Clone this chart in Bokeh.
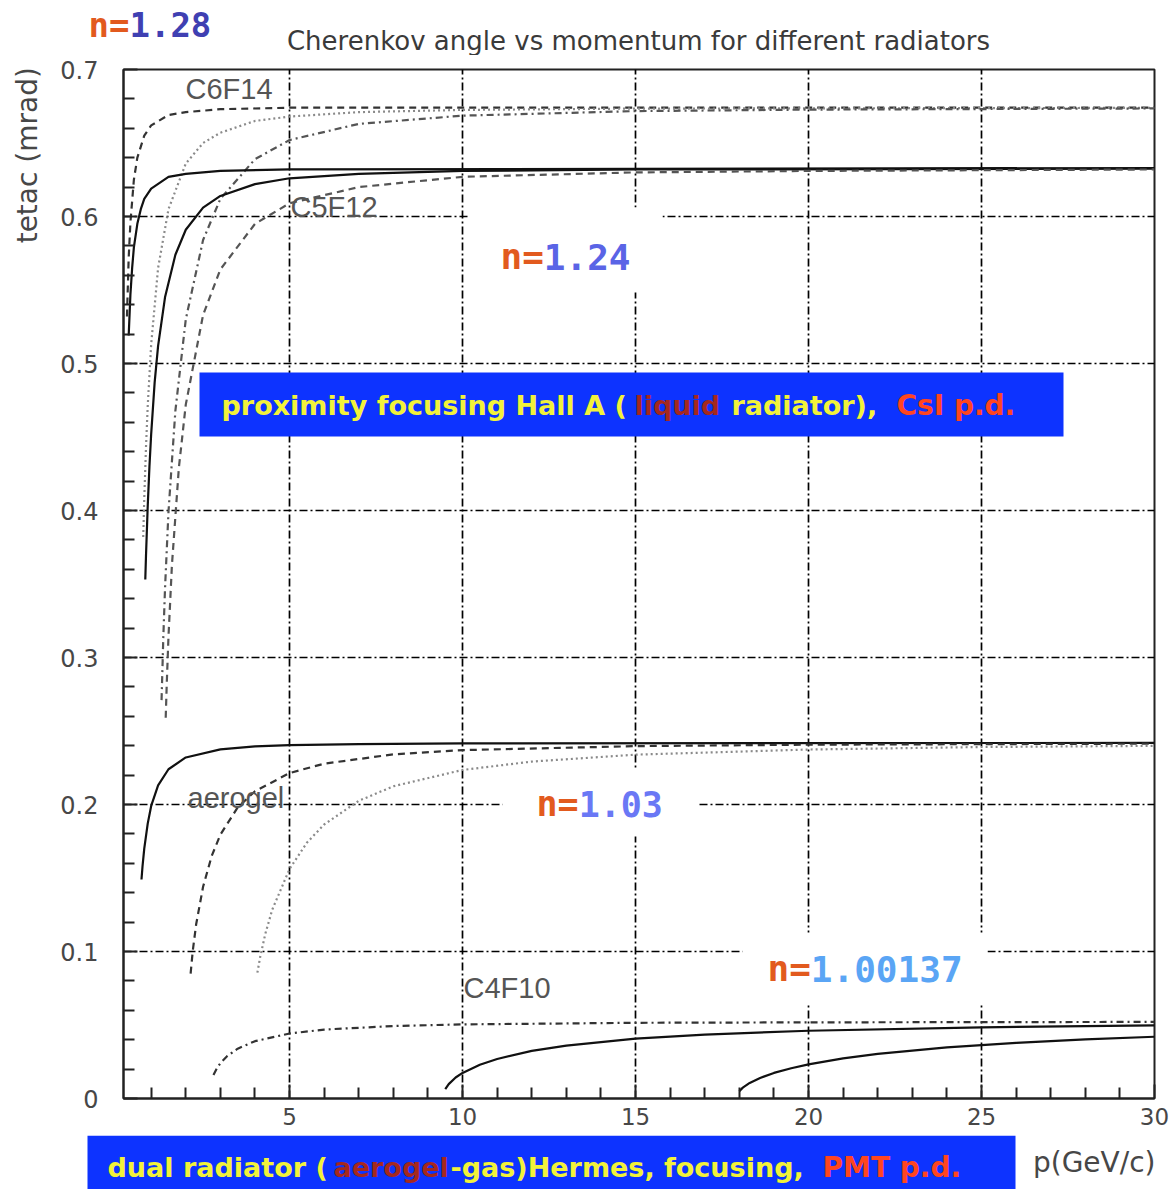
import math
from bokeh.plotting import figure
from bokeh.models import Range1d, FixedTicker, Label, BoxAnnotation
from bokeh.layouts import column, row
from bokeh.embed import file_html
from bokeh.resources import INLINE

# ---------------- data ----------------
# C6F14 (n = 1.28)
c6f14_pi_p = [0.3, 0.35, 0.4, 0.5, 0.6, 0.8, 1.0, 1.5, 2.0, 3.0, 5.0, 10.0, 30.0]
c6f14_pi_t = [0.532, 0.572, 0.596, 0.625, 0.640, 0.655, 0.662, 0.669, 0.671, 0.673, 0.674, 0.674, 0.674]
c6f14_k_p = [0.77, 0.8, 0.85, 0.9, 1.0, 1.2, 1.5, 2.0, 2.5, 3.0, 4.0, 5.0, 7.0, 10.0, 15.0, 30.0]
c6f14_k_t = [0.382, 0.408, 0.443, 0.471, 0.513, 0.565, 0.605, 0.636, 0.650, 0.657, 0.665, 0.668, 0.671, 0.6725, 0.6734, 0.6739]
c6f14_p_p = [1.3, 1.35, 1.4, 1.5, 1.7, 2.0, 2.5, 3.0, 4.0, 5.0, 7.0, 10.0, 15.0, 20.0, 30.0]
c6f14_p_t = [0.271, 0.313, 0.347, 0.399, 0.468, 0.530, 0.584, 0.612, 0.639, 0.652, 0.663, 0.6686, 0.6717, 0.6727, 0.6735]
# C5F12 (n = 1.24)
c5f12_pi_p = [0.35, 0.4, 0.45, 0.5, 0.6, 0.7, 0.8, 1.0, 1.5, 2.0, 3.0, 5.0, 30.0]
c5f12_pi_t = [0.519, 0.547, 0.565, 0.579, 0.595, 0.605, 0.612, 0.619, 0.627, 0.629, 0.631, 0.632, 0.633]
c5f12_k_p = [0.83, 0.85, 0.9, 0.95, 1.0, 1.1, 1.2, 1.4, 1.7, 2.0, 2.5, 3.0, 4.0, 5.0, 7.0, 10.0, 15.0, 30.0]
c5f12_k_t = [0.353, 0.369, 0.403, 0.430, 0.452, 0.487, 0.512, 0.545, 0.574, 0.591, 0.606, 0.614, 0.622, 0.626, 0.629, 0.631, 0.632, 0.6325]
c5f12_p_p = [1.42, 1.45, 1.5, 1.6, 1.8, 2.0, 2.5, 3.0, 4.0, 5.0, 7.0, 10.0, 15.0, 20.0, 30.0]
c5f12_p_t = [0.259, 0.282, 0.314, 0.363, 0.429, 0.472, 0.533, 0.564, 0.595, 0.609, 0.620, 0.627, 0.630, 0.631, 0.632]
# aerogel (n = 1.03)
aero_pi_p = [0.72, 0.75, 0.8, 0.9, 1.0, 1.2, 1.5, 2.0, 3.0, 4.0, 5.0, 7.0, 10.0, 30.0]
aero_pi_t = [0.149, 0.158, 0.170, 0.187, 0.199, 0.213, 0.224, 0.232, 0.2375, 0.2395, 0.2404, 0.2411, 0.2416, 0.2419]
aero_k_p = [2.14, 2.2, 2.3, 2.5, 2.75, 3.0, 3.5, 4.0, 5.0, 6.0, 8.0, 10.0, 15.0, 20.0, 30.0]
aero_k_t = [0.085, 0.100, 0.1185, 0.144, 0.165, 0.1795, 0.198, 0.209, 0.2214, 0.2278, 0.2341, 0.237, 0.2397, 0.2407, 0.2414]
aero_p_p = [4.07, 4.15, 4.3, 4.5, 5.0, 5.5, 6.0, 7.0, 8.0, 10.0, 12.0, 15.0, 20.0, 25.0, 30.0]
aero_p_t = [0.0856, 0.0962, 0.1121, 0.1285, 0.1562, 0.174, 0.1864, 0.2025, 0.2124, 0.2235, 0.2292, 0.2339, 0.2374, 0.2391, 0.2399]
# C4F10 (n = 1.00137)
c4f10_pi_p = [2.8, 2.9, 3.0, 3.2, 3.5, 4.0, 5.0, 6.0, 8.0, 10.0, 15.0, 20.0, 30.0]
c4f10_pi_t = [0.0160, 0.0206, 0.0240, 0.0289, 0.0339, 0.0390, 0.0442, 0.0469, 0.0493, 0.0504, 0.0515, 0.0518, 0.0521]
c4f10_k_p = [9.5, 9.6, 9.8, 10.0, 10.5, 11.0, 12.0, 13.0, 15.0, 17.0, 20.0, 25.0, 30.0]
c4f10_k_t = [0.0064, 0.0098, 0.0143, 0.0174, 0.0230, 0.0269, 0.0324, 0.0360, 0.0407, 0.0435, 0.0461, 0.0484, 0.0497]
c4f10_p_p = [18.0, 18.1, 18.3, 18.6, 19.0, 19.5, 20.0, 21.0, 22.0, 24.0, 26.0, 28.0, 30.0]
c4f10_p_t = [0.0050, 0.0074, 0.0106, 0.0140, 0.0174, 0.0206, 0.0232, 0.0273, 0.0303, 0.0348, 0.0379, 0.0402, 0.0420]

# ticks
x_ticks = [5, 10, 15, 20, 25, 30]
x_tick_labels = ["5", "10", "15", "20", "25", "30"]
x_minor = [1, 2, 3, 4, 6, 7, 8, 9, 11, 12, 13, 14, 16, 17, 18, 19, 21, 22, 23, 24, 26, 27, 28, 29]
y_ticks = [0, 0.1, 0.2, 0.3, 0.4, 0.5, 0.6, 0.7]
y_tick_labels = ["0", "0.1", "0.2", "0.3", "0.4", "0.5", "0.6", "0.7"]
y_minor = [0.02, 0.04, 0.06, 0.08, 0.12, 0.14, 0.16, 0.18, 0.22, 0.24, 0.26, 0.28,
           0.32, 0.34, 0.36, 0.38, 0.42, 0.44, 0.46, 0.48, 0.52, 0.54, 0.56, 0.58,
           0.62, 0.64, 0.66, 0.68]

# ---------------- layout geometry (page pixels) ----------------
W, H = 1176, 1189
TOP_H = 55            # strip above the plot (title, n=1.28)
BOT_Y = 1135          # strip below the plot (blue banner, axis name)
LEFT_W = 50           # strip left of the plot (y axis name)
X0, X1 = 0.2, 30.0
Y0, Y1 = 0.0, 0.7
FL, FR, FT, FB = 123, 1154, 69, 1098   # frame edges in page px


def dx(px):
    return X0 + (px - FL) * (X1 - X0) / (FR - FL)


def dy(py):
    return Y0 + (FB - py) * (Y1 - Y0) / (FB - FT)


def strip(w, h):
    s = figure(width=w, height=h, x_range=Range1d(0, w), y_range=Range1d(h, 0),
               x_axis_type=None, y_axis_type=None, output_backend="svg",
               toolbar_location=None, min_border=0)
    s.outline_line_color = None
    s.background_fill_color = "white"
    s.border_fill_color = "white"
    s.grid.visible = False
    return s


def lab(fig, text, x, y, size, color, font="DejaVu Sans", style="normal",
        align="left", baseline="middle", angle=0.0):
    fig.add_layout(Label(x=x, y=y, text=text, text_font=font,
                         text_font_size=f"{size}px", text_color=color,
                         text_font_style=style, text_align=align,
                         text_baseline=baseline, angle=angle))


def box(fig, l, r, t, b, color):
    fig.add_layout(BoxAnnotation(left=l, right=r, top=t, bottom=b,
                                 fill_color=color, fill_alpha=1.0, line_color=None))


MID_H = BOT_Y - TOP_H
p = figure(width=W - LEFT_W, height=MID_H, x_range=Range1d(X0, X1), y_range=Range1d(Y0, Y1),
           output_backend="svg", toolbar_location=None,
           min_border_left=FL - LEFT_W, min_border_right=W - FR,
           min_border_top=FT - TOP_H, min_border_bottom=BOT_Y - FB)
p.background_fill_color = "white"
p.border_fill_color = "white"
p.outline_line_color = "#222222"
p.outline_line_width = 2

AX = "#222222"
TXT = "#474747"

xa = p.xaxis[0]
xa.ticker = FixedTicker(ticks=x_ticks, minor_ticks=x_minor)
xa.major_label_overrides = {t: l for t, l in zip(x_ticks, x_tick_labels)}
ya = p.yaxis[0]
ya.ticker = FixedTicker(ticks=y_ticks, minor_ticks=y_minor)
ya.major_label_overrides = {t: l for t, l in zip(y_ticks, y_tick_labels)}
for ax in (xa, ya):
    ax.axis_line_color = AX
    ax.axis_line_width = 2
    ax.major_tick_in = 14
    ax.major_tick_out = 0
    ax.minor_tick_in = 11
    ax.minor_tick_out = 0
    ax.major_tick_line_color = AX
    ax.major_tick_line_width = 2
    ax.minor_tick_line_color = AX
    ax.minor_tick_line_width = 2
    ax.major_label_text_font = "DejaVu Sans"
    ax.major_label_text_color = TXT
xa.major_label_text_font_size = "23px"
ya.major_label_text_font_size = "24px"
xa.major_label_standoff = 9
ya.major_label_standoff = 25

p.xgrid.ticker = FixedTicker(ticks=x_ticks)
p.ygrid.ticker = FixedTicker(ticks=y_ticks)
for g in (p.xgrid, p.ygrid):
    g.grid_line_color = "#000000"
    g.grid_line_width = 1.7
    g.grid_line_dash = "8 3 2 3"

# ---------------- curves ----------------
curves = [
    (c6f14_pi_p, c6f14_pi_t, "#333333", "7 5"),
    (c6f14_k_p, c6f14_k_t, "#8a8a8a", "2 3"),
    (c6f14_p_p, c6f14_p_t, "#555555", "7 4 2 4"),
    (c5f12_pi_p, c5f12_pi_t, "#111111", "solid"),
    (c5f12_k_p, c5f12_k_t, "#111111", "solid"),
    (c5f12_p_p, c5f12_p_t, "#555555", "7 5"),
    (aero_pi_p, aero_pi_t, "#111111", "solid"),
    (aero_k_p, aero_k_t, "#333333", "7 5"),
    (aero_p_p, aero_p_t, "#8a8a8a", "2 3"),
    (c4f10_pi_p, c4f10_pi_t, "#333333", "7 4 2 4"),
    (c4f10_k_p, c4f10_k_t, "#111111", "solid"),
    (c4f10_p_p, c4f10_p_t, "#111111", "solid"),
]
for xs, ys, col, dash in curves:
    p.line(xs, ys, line_color=col, line_width=2.2, line_dash=dash)

# ---------------- annotations inside the frame ----------------
def pbox(l, r, t, b, color):
    box(p, dx(l), dx(r), dy(t), dy(b), color)


def plab(text, px, py, size, color, font="DejaVu Sans", style="normal", align="left"):
    lab(p, text, dx(px), dy(py), size, color, font, style, align)


pbox(468, 662, 207, 292, "white")
pbox(502, 697, 768, 836, "white")
pbox(742, 987, 932, 1003, "white")

BLUE = "#0d33ff"
YEL = "#f2f23a"
DRED = "#a5281e"
RED = "#ff4520"
BF = "DejaVu Sans"
pbox(199, 1063, 372, 436, BLUE)
plab("proximity focusing Hall A (", 221, 405, 27, YEL, BF, "bold")
plab("liquid", 634, 405, 27, DRED, BF, "bold")
plab("radiator),", 731, 405, 27, YEL, BF, "bold")
plab("CsI p.d.", 896, 405, 28, RED, BF, "bold")

RN = "Liberation Sans"
plab("C6F14", 185, 88, 29, "#555555", RN)
plab("C5F12", 290, 206, 29, "#555555", RN)
plab("aerogel", 187, 797, 29, "#555555", RN)
plab("C4F10", 463, 987, 29, "#555555", RN)

ORG = "#e25a1e"
MONO = "DejaVu Sans Mono"
plab("n=", 500, 256, 36, ORG, MONO, "bold")
plab("1.24", 500 + 2 * 0.602 * 36, 256, 36, "#5a64e6", MONO, "bold")
plab("n=", 536, 803, 35, ORG, MONO, "bold")
plab("1.03", 536 + 2 * 0.602 * 35, 803, 35, "#6a78f5", MONO, "bold")
plab("n=", 767, 968, 36, ORG, MONO, "bold")
plab("1.00137", 767 + 2 * 0.602 * 36, 968, 36, "#5aa5f5", MONO, "bold")

# ---------------- strips around the plot ----------------
top = strip(W, TOP_H)
lab(top, "Cherenkov angle vs momentum for different radiators", 638, 40, 26, "#3a3a3a",
    align="center")
lab(top, "n=", 88, 24, 34, ORG, MONO, "bold")
lab(top, "1.28", 88 + 2 * 0.602 * 34, 24, 34, "#3f40b2", MONO, "bold")

left = strip(LEFT_W, MID_H)
lab(left, "tetac (mrad)", 27, 145 - TOP_H, 28, TXT, align="center", angle=math.pi / 2)

bottom = strip(W, H - BOT_Y)
box(bottom, 87, 1015, 0, H - BOT_Y, BLUE)
by = 1167 - BOT_Y
lab(bottom, "dual radiator (", 107, by, 27, YEL, BF, "bold")
lab(bottom, "aerogel", 333, by, 27, DRED, BF, "bold")
lab(bottom, "-gas)Hermes, focusing,", 450, by, 27, YEL, BF, "bold")
lab(bottom, "PMT p.d.", 822, by, 28, RED, BF, "bold")
lab(bottom, "p(GeV/c)", 1155, 1162 - BOT_Y, 28, TXT, align="right")

layout = column(top, row(left, p, spacing=0), bottom, spacing=0)
open("out.html", "w").write(file_html(layout, INLINE))
